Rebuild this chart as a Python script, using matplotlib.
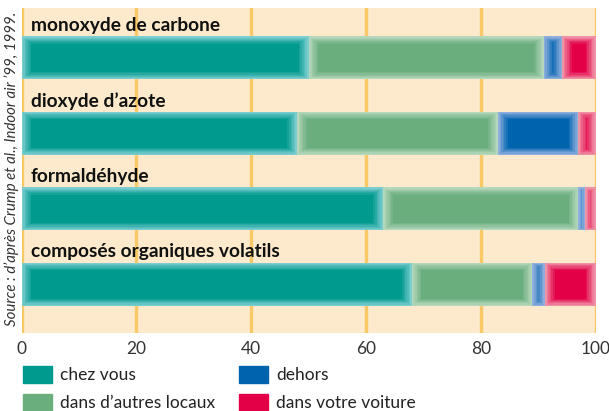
import matplotlib
matplotlib.use('Agg')
import matplotlib.pyplot as plt
from matplotlib.patches import Rectangle
from matplotlib.colors import to_rgb

polluants = ['monoxyde de carbone', 'dioxyde d\u2019azote', 'formaldéhyde',
             'composés organiques volatils']
chez_vous = [50, 48, 63, 68]
autres_locaux = [41, 35, 34, 21]
dehors = [3.2, 14, 1.2, 2.2]
voiture = [5.8, 3, 1.8, 8.8]
ticks = [0, 20, 40, 60, 80, 100]

series = [('chez vous', chez_vous, '#009a8e', '#7ccdd0'),
          ('dans d\u2019autres locaux', autres_locaux, '#6aae7e', '#b5d8bc'),
          ('dehors', dehors, '#0063ae', '#8eaedd'),
          ('dans votre voiture', voiture, '#e30047', '#ef92a6')]


def mix(c1, c2, t):
    a, b = to_rgb(c1), to_rgb(c2)
    return tuple(x + (y - x) * t for x, y in zip(a, b))


plt.rcParams['font.family'] = ['Lato', 'DejaVu Sans']

fig = plt.figure(figsize=(6.09, 4.11), dpi=100)
ax = fig.add_axes([21.5 / 609, 78 / 411, 574 / 609, 325 / 411])
ax.set_facecolor('#fdeacc')

ypos = list(range(len(polluants)))
h = 0.57
steps = 6
left = [0] * len(polluants)
for name, vals, col, light in series:
    # soft (blurred) edges: stacked bars getting darker toward the centre
    for k in range(steps + 1):
        dx = 0.28 * k
        dy = 0.016 * k
        w = [max(v - 2 * dx, 0) for v in vals]
        ax.barh(ypos, w, left=[l + dx for l in left], height=h - 2 * dy,
                color=mix(light, col, k / steps), zorder=2 + k * 0.01, lw=0)
    left = [l + v for l, v in zip(left, vals)]

for y, name in zip(ypos, polluants):
    ax.text(1.6, y - 0.43, name, fontsize=13.8, fontweight='bold',
            va='center', ha='left', color='#111111', zorder=4)

ax.set_xlim(0, 100)
ax.set_ylim(len(polluants) - 1 + 0.645, -0.66)
ax.set_xticks(ticks)
ax.set_xticklabels([str(t) for t in ticks])
ax.set_yticks([])
ax.tick_params(axis='x', length=0, pad=6, labelsize=12.5, labelcolor='#333333')
for t in ticks:
    ax.axvline(t, color='#fbc867', lw=2.4, zorder=1)
for s in ax.spines.values():
    s.set_visible(False)

fig.text(12 / 609, 1 - 169 / 411, 'Source : d\u2019après Crump et al., Indoor air \u201999, 1999.',
         rotation=90, fontsize=10.8, style='italic', color='#333333',
         ha='center', va='center')

# legend
for i, (name, vals, col, light) in enumerate(series):
    cx = 23 if i < 2 else 239
    cy = 366 if i % 2 == 0 else 394
    fig.patches.append(Rectangle((cx / 609, 1 - (cy + 17) / 411), 29 / 609, 17 / 411,
                                 transform=fig.transFigure, color=col))
    fig.text((cx + 37) / 609, 1 - (cy + 8.5) / 411, name, fontsize=12.5,
             va='center', ha='left', color='#222222')

fig.savefig('out.png', dpi=100)
